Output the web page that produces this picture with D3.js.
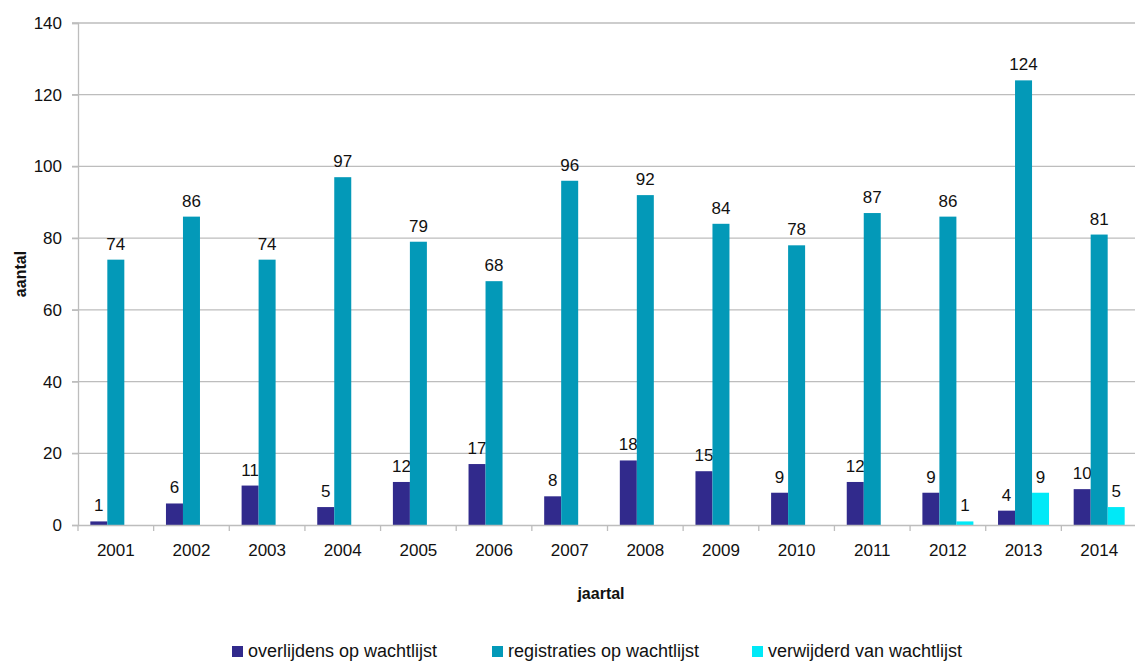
<!DOCTYPE html>
<html>
<head>
<meta charset="utf-8">
<script src="https://cdn.jsdelivr.net/npm/d3@7"></script>
<style>
  html, body { margin: 0; padding: 0; background: #ffffff; }
  svg { display: block; font-family: "Liberation Sans", Arial, sans-serif; }
</style>
</head>
<body>
<svg id="chart" width="1135" height="662"></svg>
<script>
// Jaren en aantallen per serie
const years = ["2001","2002","2003","2004","2005","2006","2007","2008","2009","2010","2011","2012","2013","2014"];
const overlijdens = [1, 6, 11, 5, 12, 17, 8, 18, 15, 9, 12, 9, 4, 10];
const registraties = [74, 86, 74, 97, 79, 68, 96, 92, 84, 78, 87, 86, 124, 81];
const verwijderd = [null, null, null, null, null, null, null, null, null, null, null, 1, 9, 5];
const seriesNames = ["overlijdens op wachtlijst", "registraties op wachtlijst", "verwijderd van wachtlijst"];
const yTicks = [0, 20, 40, 60, 80, 100, 120, 140];

const colors = ["#312a8c", "#0399b8", "#00e9f7"];
const seriesValues = [overlijdens, registraties, verwijderd];

const svg = d3.select("#chart");
const plotLeft = 78, plotRight = 1137, plotTop = 23, plotBottom = 525;

const x = d3.scaleBand().domain(years).range([plotLeft, plotRight]).paddingInner(0).paddingOuter(0);
const y = d3.scaleLinear().domain([0, 140]).range([plotBottom, plotTop]);
const barW = 17;
const xs = d3.scaleBand().domain([0, 1, 2]).range([0, barW * 3]);
const groupOffset = (x.bandwidth() - barW * 3) / 2;

// Horizontale rasterlijnen
svg.append("g")
  .selectAll("line")
  .data(yTicks.filter(d => d > 0))
  .join("line")
  .attr("x1", plotLeft - 6).attr("x2", plotRight)
  .attr("y1", d => y(d)).attr("y2", d => y(d))
  .attr("stroke", "#bdbdbd").attr("stroke-width", 1.3);

// Y-as
const yAxis = svg.append("g")
  .attr("transform", `translate(${plotLeft},0)`)
  .call(d3.axisLeft(y).tickValues(yTicks).tickSize(6).tickPadding(10));
yAxis.select(".domain").attr("stroke", "#bdbdbd").attr("stroke-width", 1.3);
yAxis.selectAll(".tick line").attr("stroke", "#bdbdbd").attr("stroke-width", 1.3);
yAxis.selectAll(".tick text").attr("font-size", 17).attr("fill", "#111")
  .attr("font-family", "Liberation Sans, Arial, sans-serif");

// Balken
seriesValues.forEach((vals, si) => {
  const g = svg.append("g");
  const data = years.map((yr, i) => ({ yr, v: vals[i] })).filter(d => d.v !== null);
  g.selectAll("rect")
    .data(data)
    .join("rect")
    .attr("x", d => x(d.yr) + groupOffset + xs(si))
    .attr("y", d => y(d.v))
    .attr("width", barW)
    .attr("height", d => y(0) - y(d.v))
    .attr("fill", colors[si]);
  g.selectAll("text")
    .data(data)
    .join("text")
    .attr("x", d => x(d.yr) + groupOffset + xs(si) + barW / 2)
    .attr("y", d => y(d.v) - 10)
    .attr("text-anchor", "middle")
    .attr("font-size", 17)
    .attr("fill", "#111")
    .text(d => d.v);
});

// X-as
const xAxis = svg.append("g")
  .attr("transform", `translate(0,${plotBottom})`)
  .call(d3.axisBottom(x).tickSize(0).tickPadding(19));
xAxis.select(".domain").attr("stroke", "#bdbdbd").attr("stroke-width", 1.3);
xAxis.selectAll(".tick text").attr("font-size", 17).attr("fill", "#111")
  .attr("font-family", "Liberation Sans, Arial, sans-serif");
// Scheidingsstreepjes tussen de jaren
svg.append("g")
  .selectAll("line")
  .data(years)
  .join("line")
  .attr("x1", d => x(d)).attr("x2", d => x(d))
  .attr("y1", plotBottom).attr("y2", plotBottom + 6)
  .attr("stroke", "#bdbdbd").attr("stroke-width", 1.3);

// Astitels
svg.append("text")
  .attr("transform", `translate(26,${(plotTop + plotBottom) / 2}) rotate(-90)`)
  .attr("text-anchor", "middle")
  .attr("font-size", 16).attr("font-weight", "bold").attr("fill", "#111")
  .text("aantal");
svg.append("text")
  .attr("x", 601).attr("y", 599)
  .attr("text-anchor", "middle")
  .attr("font-size", 16).attr("font-weight", "bold").attr("fill", "#111")
  .text("jaartal");

// Legenda
const legendX = [232, 492, 752];
const legend = svg.append("g");
seriesNames.forEach((name, i) => {
  legend.append("rect")
    .attr("x", legendX[i]).attr("y", 646)
    .attr("width", 11).attr("height", 11)
    .attr("fill", colors[i]);
  legend.append("text")
    .attr("x", legendX[i] + 16).attr("y", 657)
    .attr("font-size", 18).attr("fill", "#111")
    .text(name);
});
</script>
</body>
</html>
